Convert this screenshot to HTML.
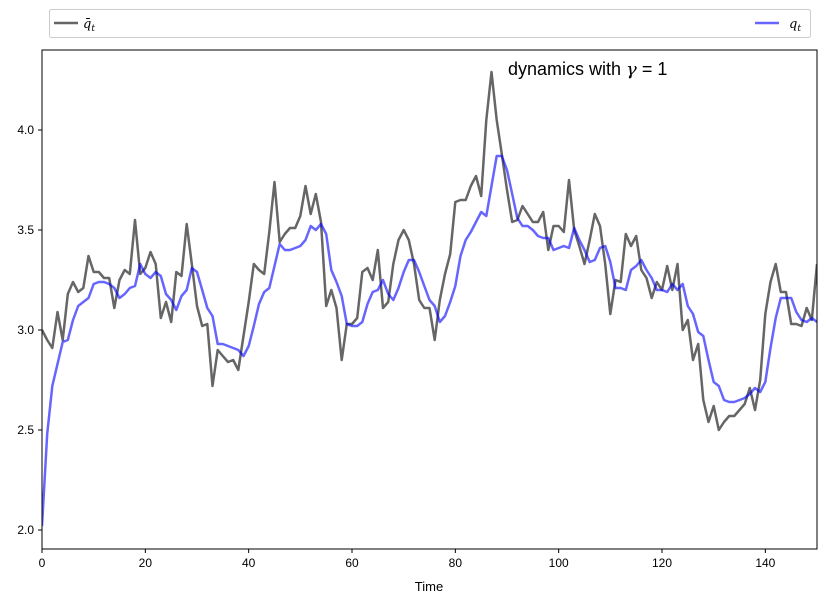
<!DOCTYPE html>
<html><head><meta charset="utf-8"><style>
body{margin:0;background:#fff;}
svg{font-family:"Liberation Sans","DejaVu Sans",sans-serif;}
</style></head><body>
<svg id="s" width="826" height="604" xmlns="http://www.w3.org/2000/svg">
<rect x="0" y="0" width="826" height="604" fill="#fff"/>
<g id="plot"></g>
<rect x="42" y="50" width="775" height="499" fill="none" stroke="#000" stroke-width="1"/>
<g id="ticks" font-size="12" fill="#000"></g>
<text x="429" y="591" font-size="13" text-anchor="middle">Time</text>
<text x="508" y="75" font-size="18">dynamics with <tspan font-style="italic" font-family="DejaVu Serif, serif">γ</tspan> = 1</text>
<rect x="49.5" y="9.5" width="761" height="28" rx="2" fill="#fff" stroke="#ccc"/>
<line x1="54" y1="23" x2="78" y2="23" stroke="#000" stroke-opacity="0.6" stroke-width="2.5"/>
<text x="83" y="28" font-size="13" font-style="italic" font-family="DejaVu Serif, serif">q̄<tspan font-size="9" dy="3">t</tspan></text>
<line x1="755" y1="23" x2="779" y2="23" stroke="#00f" stroke-opacity="0.6" stroke-width="2.5"/>
<text x="789" y="28" font-size="13" font-style="italic" font-family="DejaVu Serif, serif">q<tspan font-size="9" dy="3">t</tspan></text>
</svg>
<script>
var A=[3.0,2.95,2.91,3.09,2.95,3.18,3.24,3.19,3.21,3.37,3.29,3.29,3.26,3.26,3.11,3.25,3.30,3.28,3.55,3.28,3.31,3.39,3.33,3.06,3.14,3.04,3.29,3.27,3.53,3.33,3.12,3.02,3.03,2.72,2.90,2.87,2.84,2.85,2.80,2.97,3.14,3.33,3.30,3.28,3.49,3.74,3.44,3.48,3.51,3.51,3.57,3.72,3.58,3.68,3.54,3.12,3.20,3.11,2.85,3.03,3.03,3.06,3.29,3.31,3.25,3.40,3.11,3.14,3.33,3.45,3.50,3.45,3.33,3.15,3.11,3.11,2.95,3.15,3.28,3.38,3.64,3.65,3.65,3.72,3.77,3.67,4.05,4.29,4.05,3.88,3.70,3.54,3.55,3.62,3.58,3.54,3.54,3.59,3.40,3.52,3.52,3.49,3.75,3.50,3.42,3.33,3.45,3.58,3.52,3.33,3.08,3.25,3.24,3.48,3.42,3.47,3.30,3.26,3.16,3.24,3.20,3.32,3.20,3.33,3.00,3.05,2.85,2.93,2.65,2.54,2.62,2.50,2.54,2.57,2.57,2.60,2.63,2.71,2.60,2.75,3.08,3.24,3.33,3.19,3.19,3.03,3.03,3.02,3.11,3.05,3.33];
var B=[2.02,2.48,2.72,2.83,2.94,2.95,3.05,3.12,3.14,3.16,3.23,3.24,3.24,3.23,3.21,3.16,3.18,3.21,3.22,3.33,3.28,3.26,3.29,3.27,3.18,3.15,3.10,3.17,3.20,3.31,3.29,3.20,3.11,3.07,2.93,2.93,2.92,2.91,2.90,2.87,2.92,3.02,3.13,3.19,3.21,3.32,3.43,3.40,3.40,3.41,3.42,3.45,3.52,3.50,3.53,3.48,3.30,3.24,3.17,3.03,3.02,3.02,3.04,3.13,3.19,3.20,3.25,3.18,3.15,3.21,3.29,3.35,3.35,3.29,3.22,3.15,3.12,3.04,3.07,3.14,3.22,3.37,3.45,3.49,3.54,3.59,3.57,3.72,3.87,3.87,3.80,3.68,3.56,3.52,3.52,3.50,3.47,3.46,3.46,3.40,3.41,3.42,3.41,3.51,3.45,3.40,3.34,3.35,3.41,3.42,3.34,3.21,3.21,3.20,3.30,3.32,3.35,3.30,3.26,3.20,3.20,3.19,3.23,3.20,3.23,3.12,3.08,2.99,2.97,2.85,2.74,2.72,2.65,2.64,2.64,2.65,2.66,2.68,2.71,2.69,2.74,2.91,3.06,3.16,3.16,3.16,3.09,3.05,3.04,3.06,3.04];
function X(t){return 42+t*775/150;}function Y(v){return 330-(v-3)*200;}
function P(d,c){var s=d.map(function(v,i){return (i?'L':'M')+X(i).toFixed(1)+' '+Y(v).toFixed(1);}).join('');
return '<path d="'+s+'" fill="none" stroke="'+c+'" stroke-opacity="0.6" stroke-width="2.5" stroke-linejoin="round"/>';}
document.getElementById('plot').innerHTML='<svg x="42" y="50" width="775" height="499" viewBox="42 50 775 499" overflow="hidden">'+P(A,'#000')+P(B,'#00f')+'</svg>';
var t='';
for(var i=0;i<=140;i+=20){var x=X(i);t+='<line x1="'+x+'" y1="549" x2="'+x+'" y2="553" stroke="#000"/><text x="'+x+'" y="567" text-anchor="middle">'+i+'</text>';}
[2.0,2.5,3.0,3.5,4.0].forEach(function(v){var y=Y(v);t+='<line x1="38" y1="'+y+'" x2="42" y2="'+y+'" stroke="#000"/><text x="34" y="'+(y+4)+'" text-anchor="end">'+v.toFixed(1)+'</text>';});
document.getElementById('ticks').innerHTML=t;
</script>
</body></html>
